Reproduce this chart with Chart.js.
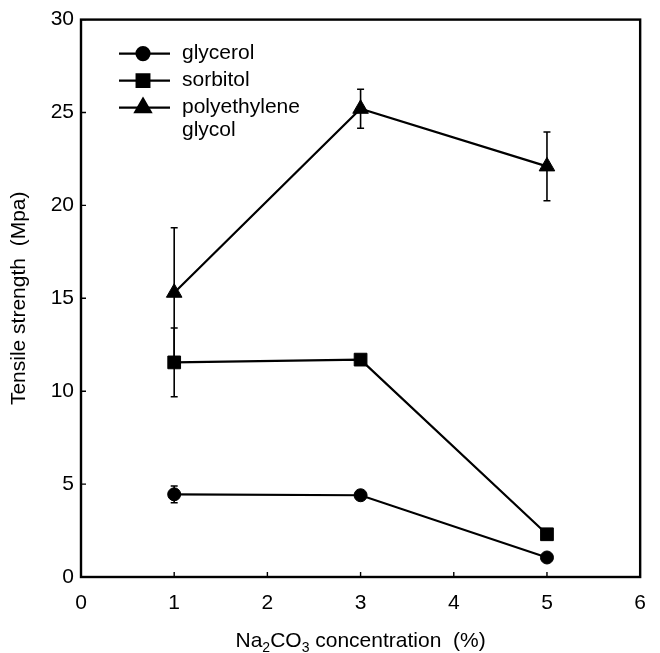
<!DOCTYPE html>
<html>
<head>
<meta charset="utf-8">
<script src="https://cdn.jsdelivr.net/npm/chart.js@4.4.1/dist/chart.umd.min.js"></script>
<style>
html,body{margin:0;padding:0;background:#fff;}
#wrap{width:660px;height:653px;position:relative;}
</style>
</head>
<body>
<div id="wrap"><canvas id="chart"></canvas></div>
<script>
// data
const concentration = [1, 3, 5];
const glycerol = [4.45, 4.4, 1.05];
const glycerolErr = [0.45, 0.12, 0.1];
const sorbitol = [11.55, 11.7, 2.3];
const sorbitolErr = [1.85, 0.25, 0.15];
const peg = [15.3, 25.2, 22.1];
const pegErr = [3.5, 1.05, 1.85];
const xTicks = [0, 1, 2, 3, 4, 5, 6];
const yTicks = [0, 5, 10, 15, 20, 25, 30];
const legendLabels = [["glycerol"], ["sorbitol"], ["polyethylene", "glycol"]];

const FONT = "Liberation Sans, Arial, Helvetica, sans-serif";

function pts(ys){
return concentration.map((x,i)=>({x:x, y:ys[i]}));
}

const errors = [glycerolErr, sorbitolErr, pegErr];

// error bars under the markers
const errorBars = {
id:"errorBars",
beforeDatasetsDraw(chart){
const ctx = chart.ctx;
const xs = chart.scales.x, ys = chart.scales.y;
ctx.save();
ctx.strokeStyle = "#000";
ctx.lineWidth = 1.6;
chart.data.datasets.forEach((ds,d)=>{
ds.data.forEach((p,i)=>{
let e = errors[d][i];
let px = xs.getPixelForValue(p.x);
let top = ys.getPixelForValue(p.y + e);
let bot = ys.getPixelForValue(p.y - e);
ctx.beginPath();
ctx.moveTo(px, top); ctx.lineTo(px, bot);
ctx.moveTo(px-3.5, top); ctx.lineTo(px+3.5, top);
ctx.moveTo(px-3.5, bot); ctx.lineTo(px+3.5, bot);
ctx.stroke();
});
});
ctx.restore();
}
};

// frame, inward ticks, legend and x title
const decor = {
id:"decor",
afterDraw(chart){
const ctx = chart.ctx;
const a = chart.chartArea;
const xs = chart.scales.x, ys = chart.scales.y;
ctx.save();
ctx.strokeStyle = "#000";
ctx.lineWidth = 2.4;
ctx.strokeRect(a.left, a.top, a.right-a.left, a.bottom-a.top);

ctx.lineWidth = 1.4;
ctx.beginPath();
xTicks.forEach(v=>{
let px = xs.getPixelForValue(v);
ctx.moveTo(px, a.bottom); ctx.lineTo(px, a.bottom-5);
});
yTicks.forEach(v=>{
let py = ys.getPixelForValue(v);
ctx.moveTo(a.left, py); ctx.lineTo(a.left+5, py);
});
ctx.stroke();

// legend
let lx = a.left + 38, ly = a.top + 34;
ctx.font = "21px " + FONT;
ctx.fillStyle = "#000";
ctx.textBaseline = "middle";
chart.data.datasets.forEach((ds,d)=>{
let y = ly + d*27;
ctx.lineWidth = 2.2;
ctx.beginPath();
ctx.moveTo(lx, y); ctx.lineTo(lx+51, y);
ctx.stroke();
Chart.helpers.drawPoint(ctx, {pointStyle:ds.pointStyle, radius:ds.pointRadius, borderWidth:1}, lx+24, y);
ctx.fill();
legendLabels[d].forEach((t,k)=>{
ctx.fillText(t, lx+63, y + k*23);
});
});

// x axis title with subscripts
ctx.textBaseline = "alphabetic";
const parts = [["Na",0],["2",1],["CO",0],["3",1],[" concentration  (%)",0]];
let w = 0;
parts.forEach(p=>{
ctx.font = (p[1] ? "14px " : "21px ") + FONT;
w += ctx.measureText(p[0]).width;
});
let x = (a.left + a.right)/2 - w/2;
let base = 647;
parts.forEach(p=>{
ctx.font = (p[1] ? "14px " : "21px ") + FONT;
ctx.fillText(p[0], x, base + (p[1] ? 5 : 0));
x += ctx.measureText(p[0]).width;
});
ctx.restore();
}
};

const common = {
borderColor:"#000",
backgroundColor:"#000",
pointBackgroundColor:"#000",
pointBorderColor:"#000",
borderWidth:2.2,
pointBorderWidth:1,
showLine:true,
tension:0
};

new Chart(document.getElementById("chart"),{
type:"scatter",
data:{
datasets:[
Object.assign({label:"glycerol", data:pts(glycerol), pointStyle:"circle", pointRadius:6.5}, common),
Object.assign({label:"sorbitol", data:pts(sorbitol), pointStyle:"rect", pointRadius:9}, common),
Object.assign({label:"polyethylene glycol", data:pts(peg), pointStyle:"triangle", pointRadius:9}, common)
]
},
options:{
responsive:true,
maintainAspectRatio:false,
animation:false,
layout:{padding:{top:17, right:14, left:0, bottom:0}},
plugins:{legend:{display:false}, tooltip:{enabled:false}},
scales:{
x:{
type:"linear",
min:0, max:6,
afterBuildTicks(s){ s.ticks = xTicks.map(v=>({value:v})); },
afterFit(s){ s.height = 76; },
grid:{display:true, drawOnChartArea:false, drawTicks:false},
border:{display:true, color:"#000", width:2},
ticks:{color:"#000", padding:14, font:{family:FONT, size:21}}
},
y:{
type:"linear",
min:0, max:30,
afterBuildTicks(s){ s.ticks = yTicks.map(v=>({value:v})); },
afterFit(s){ s.width = 81; },
grid:{display:true, drawOnChartArea:false, drawTicks:false},
border:{display:true, color:"#000", width:2},
ticks:{color:"#000", padding:7, font:{family:FONT, size:21}},
title:{display:true, text:"Tensile strength  (Mpa)", color:"#000", font:{family:FONT, size:21}, padding:{top:7, bottom:0}}
}
}
},
plugins:[errorBars, decor]
});
</script>
</body>
</html>
